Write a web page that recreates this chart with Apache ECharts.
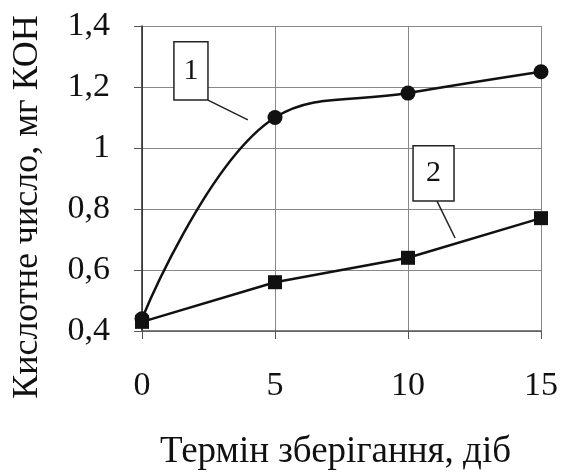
<!DOCTYPE html>
<html>
<head>
<meta charset="utf-8">
<script src="https://cdn.jsdelivr.net/npm/echarts@6/dist/echarts.min.js"></script>
<style>
  html, body { margin: 0; padding: 0; background: #fff; }
  #main { width: 562px; height: 472px; }
</style>
</head>
<body>
<div id="main"></div>
<script>
// термін зберігання, діб
const days = [0, 5, 10, 15];
// кислотне число, мг КОН
const series1 = [0.44, 1.10, 1.18, 1.25];
const series2 = [0.43, 0.56, 0.64, 0.77];
const seriesNames = ['1', '2'];

// callout boxes in data coords: [x1, y1, x2, y2], leader [xa, ya, xb, yb]
const callouts = [
  { text: '1', box: [1.2, 1.348, 2.48, 1.157], leader: [2.48, 1.157, 3.98, 1.092] },
  { text: '2', box: [10.19, 1.007, 11.73, 0.826], leader: [11.09, 0.826, 11.77, 0.705] }
];

const font = 'Liberation Serif, Times New Roman, serif';

const chart = echarts.init(document.getElementById('main'));

function pairs(ys) {
  return days.map(function (d, i) { return [d, ys[i]]; });
}

chart.setOption({
  animation: false,
  grid: { left: 142, right: 21, top: 26, bottom: 141, outerBoundsMode: 'none' },
  xAxis: {
    type: 'value',
    min: 0,
    max: 15,
    interval: 5,
    name: 'Термін зберігання, діб',
    nameLocation: 'middle',
    nameGap: 103,
    nameTextStyle: { fontFamily: font, fontSize: 37, color: '#111', padding: [0, 12, 0, 0] },
    axisLine: { show: true, lineStyle: { color: '#555', width: 1.5 } },
    axisTick: { show: true, length: 8, lineStyle: { color: '#555' } },
    axisLabel: { fontFamily: font, fontSize: 34, color: '#111', margin: 38 },
    splitLine: { show: true, lineStyle: { color: '#888', width: 1 } }
  },
  yAxis: {
    type: 'value',
    min: 0.4,
    max: 1.4,
    interval: 0.2,
    name: 'Кислотне число, мг КОН',
    nameLocation: 'middle',
    nameGap: 96,
    nameTextStyle: { fontFamily: font, fontSize: 36, color: '#111', padding: [0, 57, 0, 0] },
    axisLine: { show: true, lineStyle: { color: '#222', width: 1.5 } },
    axisTick: { show: true, length: 8, lineStyle: { color: '#555' } },
    axisLabel: {
      fontFamily: font, fontSize: 34, color: '#111', margin: 32,
      formatter: function (v) {
        return String(Math.round(v * 10) / 10).replace('.', ',');
      }
    },
    splitLine: { show: true, lineStyle: { color: '#888', width: 1 } }
  },
  series: [
    {
      name: seriesNames[0],
      type: 'line',
      smooth: 0.4,
      data: pairs(series1),
      symbol: 'circle',
      symbolSize: 15,
      lineStyle: { color: '#111', width: 2.5 },
      itemStyle: { color: '#111' }
    },
    {
      name: seriesNames[1],
      type: 'line',
      data: pairs(series2),
      symbol: 'rect',
      symbolSize: 14,
      lineStyle: { color: '#111', width: 2.5 },
      itemStyle: { color: '#111' }
    }
  ]
});

// callout boxes with leader lines
const graphics = [];
callouts.forEach(function (c) {
  const p1 = chart.convertToPixel({ gridIndex: 0 }, [c.box[0], c.box[1]]);
  const p2 = chart.convertToPixel({ gridIndex: 0 }, [c.box[2], c.box[3]]);
  const a = chart.convertToPixel({ gridIndex: 0 }, [c.leader[0], c.leader[1]]);
  const b = chart.convertToPixel({ gridIndex: 0 }, [c.leader[2], c.leader[3]]);
  graphics.push({
    type: 'line',
    shape: { x1: a[0], y1: a[1], x2: b[0], y2: b[1] },
    style: { stroke: '#222', lineWidth: 1.5 },
    z: 10
  });
  graphics.push({
    type: 'rect',
    shape: { x: p1[0], y: p1[1], width: p2[0] - p1[0], height: p2[1] - p1[1] },
    style: { fill: '#fff', stroke: '#222', lineWidth: 1.5 },
    z: 10
  });
  graphics.push({
    type: 'text',
    x: (p1[0] + p2[0]) / 2,
    y: (p1[1] + p2[1]) / 2,
    style: {
      text: c.text, fontFamily: font, fontSize: 30, fill: '#111',
      align: 'center', verticalAlign: 'middle'
    },
    z: 11
  });
});
chart.setOption({ graphic: graphics });
</script>
</body>
</html>
